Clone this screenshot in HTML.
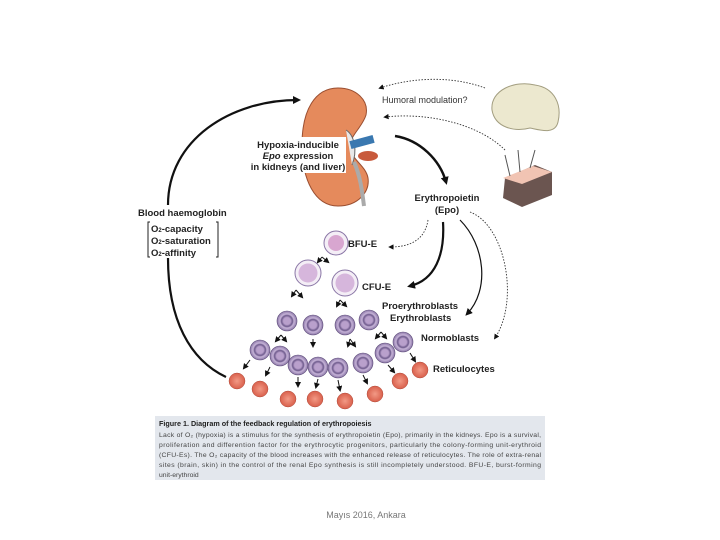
<!DOCTYPE html>
<html><head><meta charset="utf-8"><style>
html,body{margin:0;padding:0;background:#fff;}
svg{display:block;font-family:"Liberation Sans",sans-serif;}
.b{font-weight:bold;font-size:9.5px;fill:#222;}
</style></head><body>
<svg width="720" height="540" viewBox="0 0 720 540" xmlns="http://www.w3.org/2000/svg">
<defs>
<marker id="ah" markerWidth="6" markerHeight="6" refX="4" refY="3" orient="auto" markerUnits="strokeWidth"><path d="M0,0 L6,3 L0,6 z" fill="#111"/></marker>
<marker id="as" markerWidth="8" markerHeight="8" refX="5" refY="4" orient="auto" markerUnits="userSpaceOnUse"><path d="M0,0 L8,4 L0,8 z" fill="#111"/></marker>
<radialGradient id="pc"><stop offset="0.35" stop-color="#b9a0cc"/><stop offset="0.55" stop-color="#6e5a8c"/><stop offset="0.7" stop-color="#c7b4d8"/><stop offset="1" stop-color="#8a76a6"/></radialGradient>
<radialGradient id="rc"><stop offset="0" stop-color="#f29a86"/><stop offset="1" stop-color="#d9604c"/></radialGradient>
</defs>
<path d="M168,205 C168,140 230,100 298,100" fill="none" stroke="#111" stroke-width="2.2" marker-end="url(#as)"/>
<path d="M168,258 C168,320 190,360 226,377" fill="none" stroke="#111" stroke-width="2.2"/>
<!-- kidney bean -->
<path d="M338,88 C315,88 302,110 302,145 C302,180 315,206 338,206 C358,206 370,192 368,178 C366,166 352,160 350,148 C349,136 362,128 366,115 C369,100 356,88 338,88 Z" fill="#e58a5c" stroke="#9a4e30" stroke-width="1"/>
<path d="M346,130 C354,135 358,150 352,165" fill="#e8e8e8" stroke="#666" stroke-width="1"/>
<rect x="350" y="138" width="24" height="8" fill="#3a78b0" transform="rotate(-15 362 142)"/>
<ellipse cx="368" cy="156" rx="10" ry="5" fill="#c85a3c"/>
<path d="M354,162 C360,175 362,190 364,206" fill="none" stroke="#aaa" stroke-width="4"/>
<rect x="250" y="137" width="96" height="36" fill="#fff"/>
<text class="b" x="298" y="148" text-anchor="middle">Hypoxia-inducible</text>
<text class="b" x="298" y="159" text-anchor="middle" font-weight="normal"><tspan font-style="italic">Epo</tspan> expression</text>
<text class="b" x="298" y="170" text-anchor="middle">in kidneys (and liver)</text>
<path d="M492,110 C490,90 515,80 535,85 C555,88 562,105 558,122 C555,135 540,130 530,128 C515,132 495,128 492,110 Z" fill="#ece8cf" stroke="#a39e80" stroke-width="1"/>
<path d="M505,178 L535,165 L552,172 L552,195 L522,207 L503,198 Z" fill="#6b5550"/>
<path d="M503,178 L533,166 L552,172 L522,184 Z" fill="#f1c4b3"/>
<path d="M510,176 L505,155 M520,172 L518,150 M530,168 L535,150" stroke="#555" fill="none"/>
<text x="382" y="103" font-size="9" fill="#333">Humoral modulation?</text>
<path d="M485,88 C450,75 410,78 380,88" fill="none" stroke="#333" stroke-width="0.9" stroke-dasharray="1.5,1.5" marker-end="url(#ah)"/>
<path d="M505,150 C480,125 430,112 385,117" fill="none" stroke="#333" stroke-width="0.9" stroke-dasharray="1.5,1.5" marker-end="url(#ah)"/>
<path d="M395,136 C420,140 440,160 446,182" fill="none" stroke="#111" stroke-width="2.5" marker-end="url(#as)"/>
<text class="b" x="447" y="201" text-anchor="middle">Erythropoietin</text>
<text class="b" x="447" y="213" text-anchor="middle">(Epo)</text>
<path d="M428,220 C425,240 410,247 390,247" fill="none" stroke="#333" stroke-width="0.9" stroke-dasharray="1.5,1.5" marker-end="url(#ah)"/>
<path d="M443,222 C445,255 435,280 410,286" fill="none" stroke="#111" stroke-width="2.2" marker-end="url(#as)"/>
<path d="M460,220 C485,245 490,290 467,314" fill="none" stroke="#111" stroke-width="1.2" marker-end="url(#ah)"/>
<path d="M470,212 C505,225 520,300 495,338" fill="none" stroke="#333" stroke-width="0.9" stroke-dasharray="1.5,1.5" marker-end="url(#ah)"/>
<text class="b" x="138" y="216">Blood haemoglobin</text>
<path d="M150,222 L148,222 L148,257 L150,257 M216,222 L218,222 L218,257 L216,257" stroke="#222" fill="none" stroke-width="1"/>
<text class="b" x="151" y="232">O<tspan font-size="6">2</tspan>-capacity</text>
<text class="b" x="151" y="244">O<tspan font-size="6">2</tspan>-saturation</text>
<text class="b" x="151" y="256">O<tspan font-size="6">2</tspan>-affinity</text>
<circle cx="336" cy="243" r="12" fill="#f4eef6" stroke="#8a76a6"/><circle cx="336" cy="243" r="8" fill="#d8a6d0"/>
<circle cx="308" cy="273" r="13" fill="#f4eef6" stroke="#8a76a6"/><circle cx="308" cy="273" r="9.5" fill="#d6b6dc"/>
<circle cx="345" cy="283" r="13" fill="#f4eef6" stroke="#8a76a6"/><circle cx="345" cy="283" r="9.5" fill="#d6b6dc"/>
<text class="b" x="348" y="247">BFU-E</text>
<text class="b" x="362" y="290">CFU-E</text>
<text class="b" x="382" y="309">Proerythroblasts</text>
<text class="b" x="390" y="321">Erythroblasts</text>
<text class="b" x="421" y="341">Normoblasts</text>
<text class="b" x="433" y="372">Reticulocytes</text>
<g fill="url(#pc)" stroke="#5c4a78" stroke-width="0.6">
<circle cx="287" cy="321" r="10"/><circle cx="313" cy="325" r="10"/><circle cx="345" cy="325" r="10"/><circle cx="369" cy="320" r="10"/>
<circle cx="260" cy="350" r="10"/><circle cx="280" cy="356" r="10"/><circle cx="298" cy="365" r="10"/><circle cx="318" cy="367" r="10"/><circle cx="338" cy="368" r="10"/><circle cx="363" cy="363" r="10"/><circle cx="385" cy="353" r="10"/><circle cx="403" cy="342" r="10"/>
</g>
<g fill="url(#rc)" stroke="#b04a3a" stroke-width="0.5">
<circle cx="237" cy="381" r="8"/><circle cx="260" cy="389" r="8"/><circle cx="288" cy="399" r="8"/><circle cx="315" cy="399" r="8"/><circle cx="345" cy="401" r="8"/><circle cx="375" cy="394" r="8"/><circle cx="400" cy="381" r="8"/><circle cx="420" cy="370" r="8"/>
</g>
<g stroke="#111" stroke-width="1" fill="none" marker-end="url(#ah)">
<path d="M322,257 L318,262"/><path d="M322,257 L328,262"/>
<path d="M296,290 L292,296"/><path d="M296,290 L302,297"/><path d="M340,300 L337,306"/><path d="M340,300 L346,306"/>
<path d="M281,335 L276,341"/><path d="M281,335 L286,341"/><path d="M313,339 L313,346"/><path d="M350,339 L348,346"/><path d="M350,339 L355,346"/><path d="M381,332 L386,338"/><path d="M381,332 L376,338"/>
<path d="M250,360 L244,368"/><path d="M270,367 L266,375"/><path d="M298,377 L298,386"/><path d="M318,379 L316,387"/><path d="M338,380 L340,390"/><path d="M363,375 L367,383"/><path d="M388,365 L394,372"/><path d="M410,353 L415,361"/>
</g>
<rect x="155" y="416" width="390" height="64" fill="#e3e7ed"/>
<text x="159" y="426" font-size="7.2" font-weight="bold" fill="#222">Figure 1.  Diagram of the feedback regulation of erythropoiesis</text>
<g font-size="6.8" fill="#444">
<text x="159" y="437" textLength="382">Lack of O₂ (hypoxia) is a stimulus for the synthesis of erythropoietin (Epo), primarily in the kidneys. Epo is a survival,</text>
<text x="159" y="447" textLength="382">proliferation and differention factor for the erythrocytic progenitors, particularly the colony-forming unit-erythroid</text>
<text x="159" y="457" textLength="382">(CFU-Es). The O₂ capacity of the blood increases with the enhanced release of reticulocytes. The role of extra-renal</text>
<text x="159" y="467" textLength="382">sites (brain, skin) in the control of the renal Epo synthesis is still incompletely understood. BFU-E, burst-forming</text>
<text x="159" y="477">unit-erythroid</text>
</g>
<text x="366" y="518" font-size="9" fill="#777" text-anchor="middle">Mayıs 2016, Ankara</text>
</svg>
</body></html>
